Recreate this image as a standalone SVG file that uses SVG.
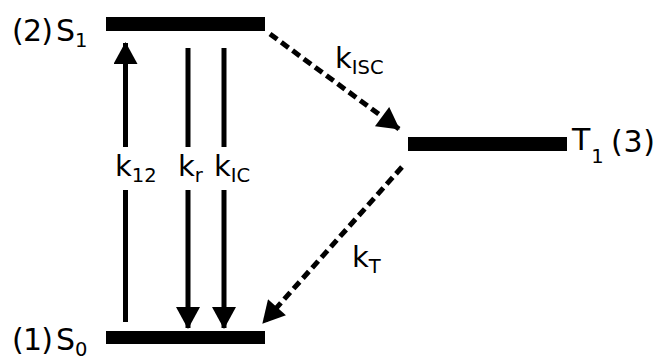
<svg xmlns="http://www.w3.org/2000/svg" width="659" height="359" viewBox="0 0 659 359">
<defs>
<style>
.lvl{fill:#000}
.t{font-family:"DejaVu Sans",Verdana,sans-serif;font-size:29px;fill:#000}
.L{font-size:30px}
.sub{font-size:19.5px}
.ar{stroke:#000;stroke-width:5;fill:none}
.da{stroke-dasharray:9 5}
</style>
<marker id="ah" markerUnits="userSpaceOnUse" markerWidth="24" markerHeight="24" viewBox="0 0 22 24" refX="21" refY="12" orient="auto">
<path d="M0,0 L22,12 L0,24 Z" fill="#000"/>
</marker>
</defs>
<rect width="659" height="359" fill="#fff"/>
<g id="S1">
<rect class="lvl" x="106" y="17" width="159" height="14"/>
<text class="t L" x="12" y="41" textLength="41">(2)</text>
<text class="t L" x="56" y="41">S<tspan class="sub" dy="6">1</tspan></text>
</g>
<g id="S0">
<rect class="lvl" x="106" y="331" width="159" height="13"/>
<text class="t L" x="12" y="350" textLength="41">(1)</text>
<text class="t L" x="56" y="350">S<tspan class="sub" dy="5.5">0</tspan></text>
</g>
<g id="T1">
<rect class="lvl" x="408" y="137" width="159" height="14"/>
<text class="t L" x="572" y="150">T<tspan class="sub" dx="1" dy="13">1</tspan></text>
<text class="t L" x="611" y="152" textLength="44">(3)</text>
</g>
<g id="connectors">
<line class="ar" x1="125.5" y1="322" x2="125.5" y2="190"/>
<line class="ar" x1="125.5" y1="147" x2="125.5" y2="43" marker-end="url(#ah)"/>
<line class="ar" x1="188" y1="48" x2="188" y2="147"/>
<line class="ar" x1="188" y1="190" x2="188" y2="328" marker-end="url(#ah)"/>
<line class="ar" x1="224" y1="48" x2="224" y2="147"/>
<line class="ar" x1="224" y1="190" x2="224" y2="328" marker-end="url(#ah)"/>
<line class="ar da" x1="270" y1="34" x2="399" y2="129" marker-end="url(#ah)"/>
<line class="ar da" x1="402" y1="167" x2="263" y2="323" marker-end="url(#ah)"/>
<text class="t" x="115" y="176">k<tspan class="sub" dy="6">12</tspan></text>
<text class="t" x="178" y="176">k<tspan class="sub" dy="6">r</tspan></text>
<text class="t" x="214" y="176">k<tspan class="sub" dy="6">IC</tspan></text>
<text class="t" x="335" y="68">k<tspan class="sub" dy="6">ISC</tspan></text>
<text class="t" x="352" y="267">k<tspan class="sub" dy="6">T</tspan></text>
</g>
</svg>
